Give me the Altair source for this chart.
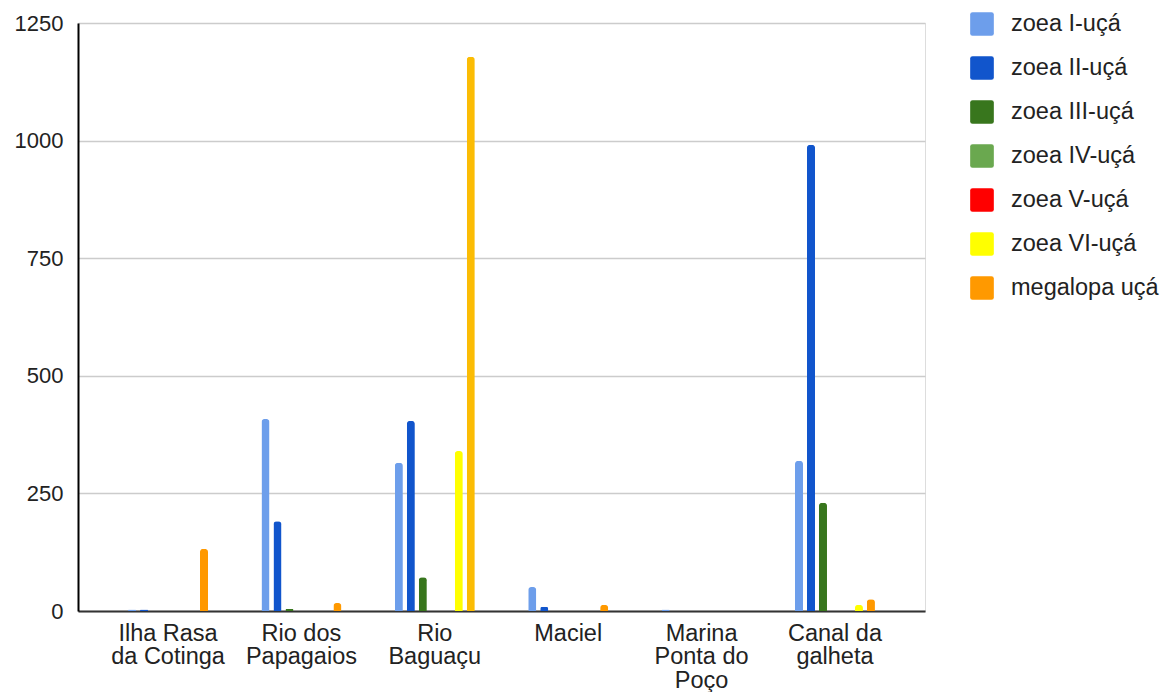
import altair as alt
import pandas as pd

sites = ["Ilha Rasa da Cotinga", "Rio dos Papagaios", "Rio Baguaçu", "Maciel",
         "Marina Ponta do Poço", "Canal da galheta"]
site_lines = [["Ilha Rasa", "da Cotinga"], ["Rio dos", "Papagaios"], ["Rio", "Baguaçu"],
              ["Maciel"], ["Marina", "Ponta do", "Poço"], ["Canal da", "galheta"]]
stages = ["zoea I-uçá", "zoea II-uçá", "zoea III-uçá", "zoea IV-uçá", "zoea V-uçá",
          "zoea VI-uçá", "megalopa uçá"]
colors = ["#6d9eeb", "#1155cc", "#38761d", "#6aa84f", "#ff0000", "#ffff00", "#ff9900"]

zoea_I = [3, 408, 315, 51, 3, 319]
zoea_II = [3, 191, 404, 9, 0, 991]
zoea_III = [0, 4, 72, 0, 0, 230]
zoea_IV = [0, 0, 0, 0, 0, 0]
zoea_V = [0, 0, 0, 0, 0, 0]
zoea_VI = [0, 0, 340, 0, 0, 13]
megalopa = [132, 17, 1178, 13, 0, 25]
series = [zoea_I, zoea_II, zoea_III, zoea_IV, zoea_V, zoea_VI, megalopa]

# single bar drawn in a highlight colour in the reference
highlight_site = "Rio Baguaçu"
highlight_stage = "megalopa uçá"
highlight_color = "#fbbc04"

rows = []
for stage, vals in zip(stages, series):
    for site, v in zip(sites, vals):
        rows.append({"site": site, "stage": stage, "value": v})
df = pd.DataFrame(rows)

label_expr = ""
for site, lines in zip(sites, site_lines):
    arr = "[" + ",".join("'" + l + "'" for l in lines) + "]"
    label_expr += f"datum.value == '{site}' ? {arr} : "
label_expr += "datum.label"

FONT = "Liberation Sans"
ROUNDED_SQUARE = ("M -0.8,-1 L 0.8,-1 Q 1,-1 1,-0.8 L 1,0.8 Q 1,1 0.8,1 L -0.8,1 "
                  "Q -1,1 -1,0.8 L -1,-0.8 Q -1,-1 -0.8,-1 Z")

is_hl = (alt.datum.site == highlight_site) & (alt.datum.stage == highlight_stage)

chart = alt.Chart(df).mark_bar(
    cornerRadiusTopLeft=3, cornerRadiusTopRight=3
).encode(
    x=alt.X("site:N", sort=sites,
            scale=alt.Scale(paddingInner=0.37, paddingOuter=0.36),
            axis=alt.Axis(title=None, labelAngle=0, ticks=False, labelExpr=label_expr,
                          labelFont=FONT, labelFontSize=23.5, labelColor="#222222",
                          labelPadding=10, labelLineHeight=23.5, labelBaseline="top",
                          domainColor="#333333", domainWidth=2, grid=False)),
    xOffset=alt.XOffset("stage:N", sort=stages,
                        scale=alt.Scale(paddingInner=0.33, paddingOuter=0.17)),
    y=alt.Y("value:Q", scale=alt.Scale(domain=[0, 1250], nice=False),
            axis=alt.Axis(title=None, values=[0, 250, 500, 750, 1000, 1250], ticks=False,
                          format="d",
                          labelFont=FONT, labelFontSize=22, labelColor="#222222",
                          labelPadding=15, gridColor="#cccccc", gridWidth=1.5,
                          domainColor="#000000", domainWidth=2)),
    color=alt.condition(
        is_hl, alt.value(highlight_color),
        alt.Color("stage:N", sort=stages,
                  scale=alt.Scale(domain=stages, range=colors),
                  legend=alt.Legend(title=None, orient="none", legendX=892, legendY=-11,
                                    symbolType=ROUNDED_SQUARE, symbolSize=560,
                                    symbolStrokeWidth=0, symbolOpacity=1,
                                    labelFont=FONT, labelFontSize=23.5, labelColor="#222222",
                                    labelOffset=17, rowPadding=20, padding=0))),
).properties(
    width=847, height=588,
    autosize=alt.AutoSizeParams(type="none"),
    padding={"left": 78, "top": 23, "right": 240, "bottom": 81},
).configure_view(stroke=None).configure(background="white")

chart.save("out.html", embed_options={"renderer": "svg", "actions": False})
